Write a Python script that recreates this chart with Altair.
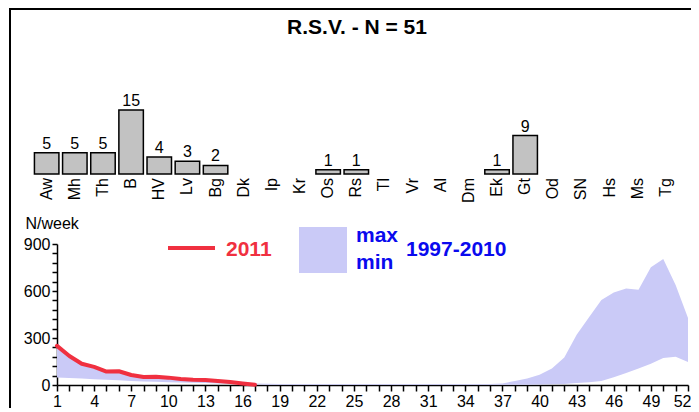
import altair as alt
import pandas as pd

FONT = "Liberation Sans"
RED = "#f03040"
BLUE = "#0a0aee"
AREA = "#cacaf7"
HATCH = "#c2c2c2"

title_text = "R.S.V. - N = 51"

regions = ["Aw", "Mh", "Th", "B", "HV", "Lv", "Bg", "Dk", "Ip", "Kr", "Os", "Rs",
           "Tl", "Vr", "Al", "Dm", "Ek", "Gt", "Od", "SN", "Hs", "Ms", "Tg"]
counts = [5, 5, 5, 15, 4, 3, 2, 0, 0, 0, 1, 1, 0, 0, 0, 0, 1, 9, 0, 0, 0, 0, 0]

weeks = list(range(1, 53))
env_max = [240, 175, 130, 110, 85, 82, 62, 50, 50, 45, 38, 33, 30, 25, 18, 12, 10, 8,
           7, 6, 6, 6, 6, 6, 6, 6, 6, 6, 6, 6, 6, 6, 6, 6, 6, 7, 10, 26, 42, 66, 106, 175,
           320, 432, 542, 590, 616, 608, 752, 805, 638, 428]
env_min = [48, 45, 42, 37, 33, 30, 26, 22, 20, 18, 16, 14, 12, 10, 8, 6, 4, 2,
           1, 1, 1, 1, 1, 1, 1, 1, 1, 1, 1, 1, 1, 1, 1, 1, 1, 1, 1, 1, 2, 3, 4, 6,
           12, 18, 25, 50, 76, 106, 135, 172, 180, 147]

weeks_2011 = list(range(1, 18))
cases_2011 = [250, 185, 136, 116, 86, 88, 64, 51, 53, 47, 38, 34, 32, 26, 19, 10, 2]

legend_2011 = "2011"
legend_range = "1997-2010"

bar_df = pd.DataFrame({"region": regions, "count": counts})
env_df = pd.DataFrame({"week": weeks, "hi": env_max, "lo": env_min})
df2011 = pd.DataFrame({"week": weeks_2011, "cases": cases_2011})
one = pd.DataFrame({"k": [0]})

# scales
xband = alt.Scale(domain=regions, range=[-24.4, 623.0], paddingInner=0.13, paddingOuter=0.065)
ybar = alt.Scale(domain=[0, 15], range=[166, 102], nice=False, zero=True)
xw = alt.Scale(domain=[1, 52], range=[0, 631], nice=False, zero=False)
yw = alt.Scale(domain=[0, 900], range=[377, 236], nice=False, zero=True)

bars = alt.Chart(bar_df).transform_filter("datum.count > 0").mark_bar(
    fill=HATCH, stroke="black", strokeWidth=1.5
).encode(
    x=alt.X("region:N", scale=xband, axis=None, sort=regions),
    y=alt.Y("count:Q", scale=ybar, axis=None),
)

bar_vals = alt.Chart(bar_df).transform_filter("datum.count > 0").mark_text(
    font=FONT, fontSize=16, baseline="alphabetic", dy=-4, color="black"
).encode(
    x=alt.X("region:N", scale=xband, axis=None, sort=regions),
    y=alt.Y("count:Q", scale=ybar, axis=None),
    text="count:Q",
)

cat_labels = alt.Chart(bar_df).mark_text(
    font=FONT, fontSize=16, angle=270, align="right", baseline="middle", color="black"
).encode(
    x=alt.X("region:N", scale=xband, axis=None, sort=regions),
    y=alt.value(170),
    text="region:N",
)

area = alt.Chart(env_df).mark_area(color=AREA, opacity=1).encode(
    x=alt.X("week:Q", scale=xw, axis=alt.Axis(
        orient="bottom", values=weeks,
        labelExpr="(datum.value - 1) % 3 === 0 ? datum.label : ''",
        labelAlign={"condition": {"test": "datum.value === 52", "value": "right"}, "value": "center"},
        labelOffset={"condition": {"test": "datum.value === 52", "value": 3}, "value": 0},
        grid=False, domainColor="black", domainWidth=1.5, tickColor="black",
        tickWidth=1.5, tickSize=6, labelPadding=2, labelFont=FONT, labelFontSize=16,
        labelColor="black", labelOverlap=False, labelFlush=False, title=None)),
    y=alt.Y("lo:Q", scale=yw, axis=alt.Axis(
        orient="left", values=list(range(0, 901, 60)),
        labelExpr="datum.value % 300 === 0 ? datum.label : ''",
        grid=False, domainColor="black", domainWidth=1.5, tickColor="black",
        tickWidth=1.5, tickSize=5, labelPadding=2, labelFont=FONT, labelFontSize=16,
        labelColor="black", labelOverlap=False, labelFlush=False,
        title="N/week", titleAngle=0, titleAlign="left", titleBaseline="alphabetic",
        titleX=-32, titleY=220, titleFont=FONT, titleFontSize=16,
        titleFontWeight="normal", titleColor="black")),
    y2="hi:Q",
)

line = alt.Chart(df2011).mark_line(color=RED, strokeWidth=4, strokeCap="round",
                                   strokeJoin="round").encode(
    x=alt.X("week:Q", scale=xw, axis=None),
    y=alt.Y("cases:Q", scale=yw, axis=None),
)

leg_line = alt.Chart(one).mark_rule(color=RED, strokeWidth=4).encode(
    x=alt.value(111), x2=alt.value(158), y=alt.value(240))
leg_2011 = alt.Chart(one).mark_text(
    font=FONT, fontSize=21, fontWeight="bold", color=RED, align="left", baseline="alphabetic"
).encode(x=alt.value(169), y=alt.value(248), text=alt.value(legend_2011))
leg_rect = alt.Chart(one).mark_rect(color=AREA).encode(
    x=alt.value(242), x2=alt.value(290), y=alt.value(219), y2=alt.value(265))
leg_max = alt.Chart(one).mark_text(
    font=FONT, fontSize=21, fontWeight="bold", color=BLUE, align="left", baseline="alphabetic"
).encode(x=alt.value(299), y=alt.value(234), text=alt.value("max"))
leg_min = alt.Chart(one).mark_text(
    font=FONT, fontSize=21, fontWeight="bold", color=BLUE, align="left", baseline="alphabetic"
).encode(x=alt.value(299), y=alt.value(261), text=alt.value("min"))
leg_range = alt.Chart(one).mark_text(
    font=FONT, fontSize=21, fontWeight="bold", color=BLUE, align="left", baseline="alphabetic"
).encode(x=alt.value(349), y=alt.value(248), text=alt.value(legend_range))

title = alt.Chart(one).mark_text(
    font=FONT, fontSize=21, fontWeight="bold", color="black", align="center", baseline="alphabetic"
).encode(x=alt.value(300), y=alt.value(26), text=alt.value(title_text))

frame_left = alt.Chart(one).mark_rule(color="black", strokeWidth=2).encode(
    x=alt.value(-47), y=alt.value(0), y2=alt.value(420))
frame_top = alt.Chart(one).mark_rule(color="black", strokeWidth=2).encode(
    x=alt.value(-48), x2=alt.value(700), y=alt.value(1))

chart = alt.layer(
    frame_left, frame_top, title,
    bars, bar_vals, cat_labels,
    area, line,
    leg_line, leg_2011, leg_rect, leg_max, leg_min, leg_range,
).resolve_scale(x="independent", y="independent").properties(
    width=631, height=377,
    autosize=alt.AutoSizeParams(type="none"),
    padding={"left": 49, "top": 0, "right": 3, "bottom": 23},
).configure_view(stroke=None)

chart.save("out.html", embed_options={"renderer": "svg", "actions": False})
